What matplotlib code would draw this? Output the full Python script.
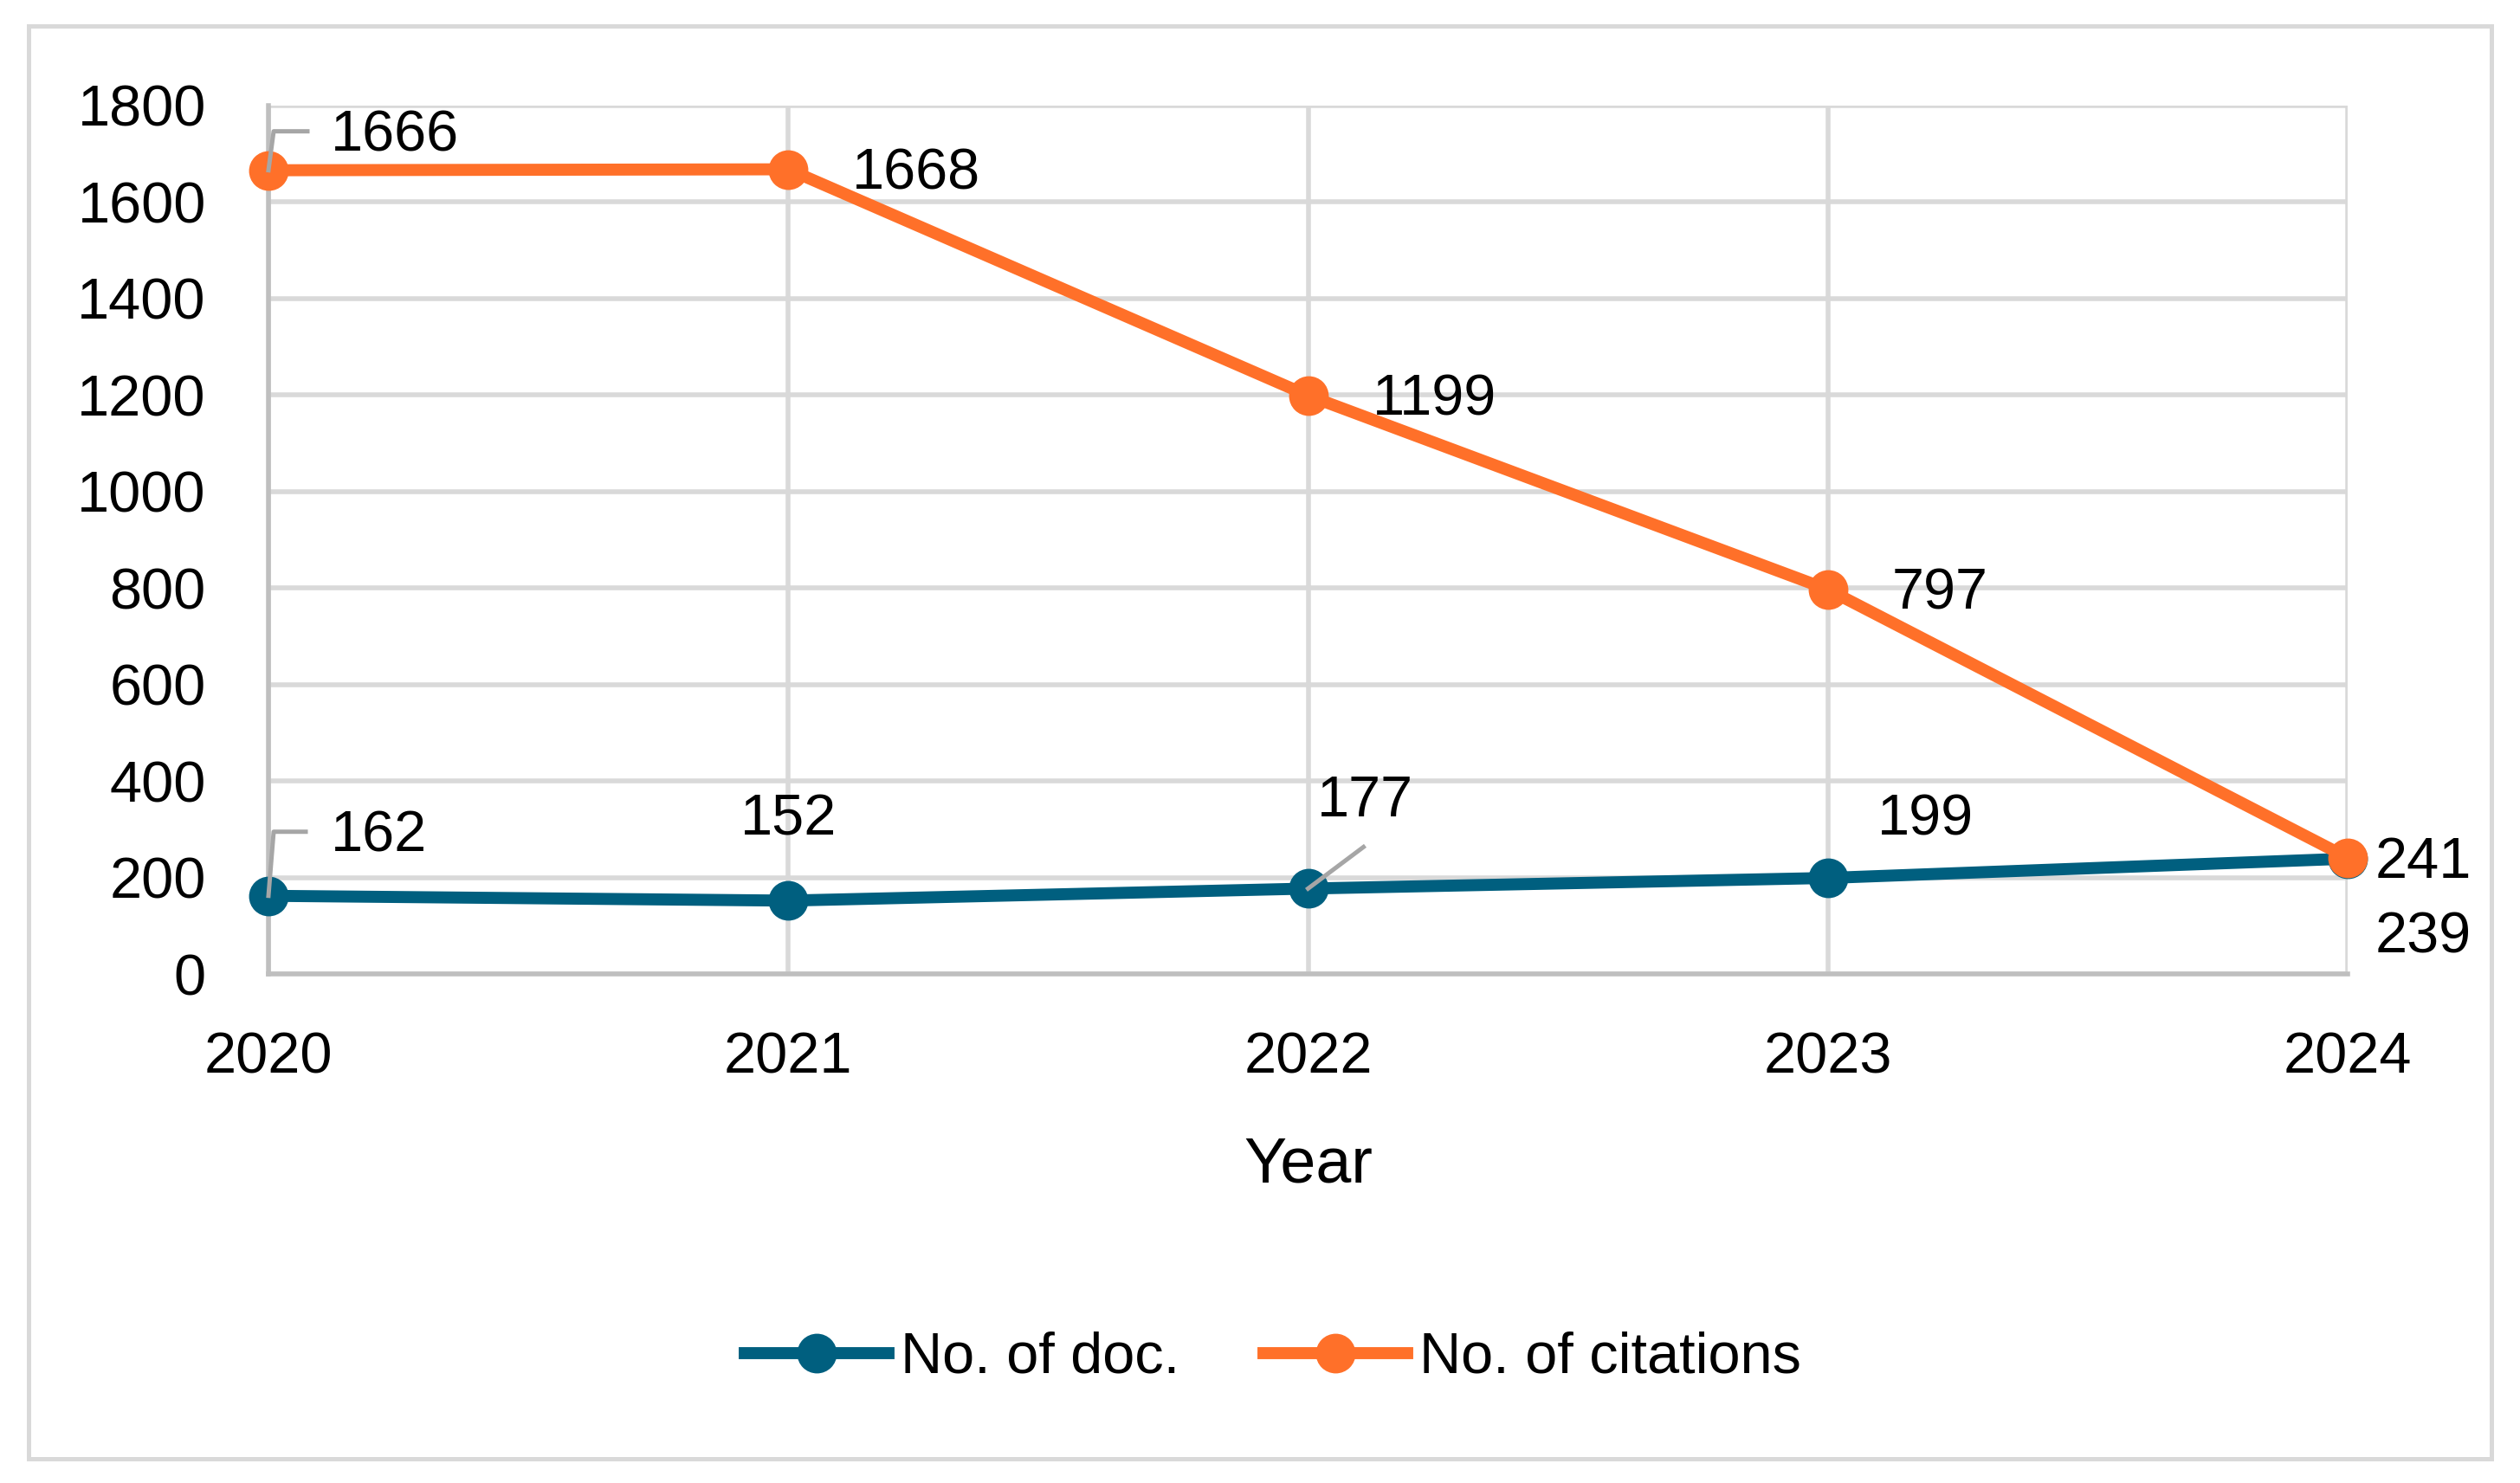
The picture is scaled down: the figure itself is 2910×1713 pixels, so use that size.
import matplotlib
matplotlib.use('Agg')
import matplotlib.pyplot as plt
from matplotlib.patches import Rectangle
from matplotlib.lines import Line2D

# data
years = [2020, 2021, 2022, 2023, 2024]
docs = [162, 152, 177, 199, 239]
citations = [1666, 1668, 1199, 797, 241]
yticks = [0, 200, 400, 600, 800, 1000, 1200, 1400, 1600, 1800]

# label offsets in pixels (dx, dy) relative to marker
doc_offsets = [(72, 68, 'left'), (0, 93, 'center'), (66, 100, 'center'), (113, 67, 'center'), (32, -92, 'left')]
cit_offsets = [(72, 39, 'left'), (74, -6, 'left'), (74, -6, 'left'), (74, -6, 'left'), (32, -6, 'left')]

blue = '#005f7f'
orange = '#ff7029'
grid_col = '#d9d9d9'
lead_col = '#a6a6a6'

plt.rcParams['font.family'] = ['Liberation Sans', 'DejaVu Sans']

fig = plt.figure(figsize=(29.10, 17.13), dpi=100)
ax = fig.add_axes([310 / 2910, 1 - 1125 / 1713, (2711 - 310) / 2910, (1125 - 122) / 1713])

ax.plot(years, docs, color=blue, lw=10, marker='o', ms=32, label='No. of doc.', clip_on=False, zorder=3)
ax.plot(years, citations, color=orange, lw=10, marker='o', ms=32, label='No. of citations', clip_on=False, zorder=4)

ax.set_xlim(2020, 2024)
ax.set_ylim(0, 1800)
ax.set_xticks(years)
ax.set_yticks(yticks)
ax.tick_params(length=0, labelsize=48, colors='black')
ax.tick_params(axis='y', pad=52)
ax.tick_params(axis='x', pad=48)
ax.grid(True, color=grid_col, lw=4, zorder=0)
ax.set_axisbelow(True)
for s in ['top', 'right']:
    ax.spines[s].set_visible(False)
for s in ['left', 'bottom']:
    ax.spines[s].set_color('#bfbfbf')
    ax.spines[s].set_linewidth(4)
ax.set_xlabel('Year', fontsize=53, labelpad=42)

# data labels
for x, y, (dx, dy, ha) in zip(years, docs, doc_offsets):
    ax.annotate(str(y), (x, y), xytext=(dx, dy), textcoords='offset pixels',
                ha=ha, va='center', fontsize=48, annotation_clip=False, zorder=6)
for x, y, (dx, dy, ha) in zip(years, citations, cit_offsets):
    ax.annotate(str(y), (x, y), xytext=(dx, dy), textcoords='offset pixels',
                ha=ha, va='center', fontsize=48, annotation_clip=False, zorder=6)

# leader lines (pixel offsets from the marker)
leaders = [
    ((years[0], citations[0]), [(0, 0), (6, 45), (45, 45)]),
    ((years[0], docs[0]), [(0, 0), (6, 74), (43, 74)]),
    ((years[2], docs[2]), [(0, 0), (64, 48)]),
]
fig.canvas.draw()
for (x, y), pts in leaders:
    px, py = ax.transData.transform((x, y))
    xs = [px + p[0] for p in pts]
    ys = [py + p[1] for p in pts]
    fig.add_artist(Line2D(xs, ys, transform=None, color=lead_col, lw=3.6, zorder=7))

fig.legend(loc='center', bbox_to_anchor=(0.505, 1 - 1569 / 1713), ncol=2, frameon=False,
           fontsize=48, handlelength=2.5, handletextpad=0.2, columnspacing=1.45)

# outer chart border
fig.add_artist(Rectangle((33 / 2910, 1 - 1685 / 1713), (2877 - 33) / 2910, (1685 - 30) / 1713,
                         transform=fig.transFigure, fill=False, ec=grid_col, lw=3.6))

fig.savefig('out.png', dpi=100)
